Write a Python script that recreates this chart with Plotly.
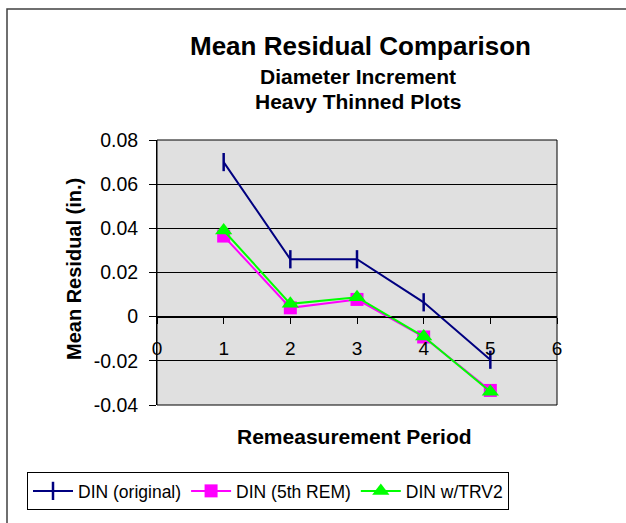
import plotly.graph_objects as go

periods = [1, 2, 3, 4, 5]
din_original = [0.070, 0.026, 0.026, 0.0065, -0.0195]
din_5th_rem = [0.0365, 0.0040, 0.0078, -0.0092, -0.0334]
din_trv2 = [0.0390, 0.0058, 0.0088, -0.0090, -0.0340]

x_ticks = [0, 1, 2, 3, 4, 5, 6]
y_ticks = [-0.04, -0.02, 0, 0.02, 0.04, 0.06, 0.08]
y_tick_labels = ["-0.04", "-0.02", "0", "0.02", "0.04", "0.06", "0.08"]
y_range = [-0.04, 0.08]

W, H = 626, 523
L, R, T, B = 157, 69, 140, 118
plot_w = W - L - R
plot_h = H - T - B

font_family = "Liberation Sans, Arial, sans-serif"


def px_x(p):
    return (p - L) / plot_w


def px_y(p):
    return (H - B - p) / plot_h


fig = go.Figure()
fig.add_trace(go.Scatter(
    x=periods, y=din_original, mode="lines+markers", name="DIN (original)",
    line=dict(color="#000080", width=2),
    marker=dict(symbol="line-ns", size=13, line=dict(color="#000080", width=2.5)),
))
fig.add_trace(go.Scatter(
    x=periods, y=din_5th_rem, mode="lines+markers", name="DIN (5th REM)",
    line=dict(color="#FF00FF", width=2),
    marker=dict(symbol="square", size=13, color="#FF00FF"),
))
fig.add_trace(go.Scatter(
    x=periods, y=din_trv2, mode="lines+markers", name="DIN w/TRV2",
    line=dict(color="#00FF00", width=2),
    marker=dict(symbol="triangle-up", size=15, color="#00FF00"),
))

zero_pos = (0 - y_range[0]) / (y_range[1] - y_range[0])

fig.update_layout(
    width=W, height=H,
    margin=dict(l=L, r=R, t=T, b=B, autoexpand=False),
    paper_bgcolor="white",
    plot_bgcolor="#E0E0E0",
    font=dict(family=font_family, color="black", size=18),
    xaxis=dict(
        range=[0, 6], tickvals=x_ticks, showgrid=False, zeroline=False,
        anchor="free", position=zero_pos,
        showline=True, linecolor="black", linewidth=1,
        ticks="outside", ticklen=6, tickcolor="black",
        tickfont=dict(size=19), ticklabelstandoff=9,
    ),
    yaxis=dict(
        range=y_range, tickvals=y_ticks, ticktext=y_tick_labels,
        showgrid=True, gridcolor="black", gridwidth=1,
        zeroline=False, showline=True, linecolor="black", linewidth=1,
        ticks="outside", ticklen=7, tickcolor="black",
        tickfont=dict(size=19.5), ticklabelstandoff=7,
    ),
    legend=dict(
        orientation="h", x=px_x(27), xanchor="left",
        y=px_y(472), yanchor="top",
        bgcolor="white", bordercolor="black", borderwidth=1,
        font=dict(size=17.5), itemwidth=40, tracegroupgap=0,
    ),
    showlegend=True,
)

# titles
fig.add_annotation(text="<b>Mean Residual Comparison</b>", xref="paper", yref="paper",
                   x=px_x(360), y=px_y(46), xanchor="center", yanchor="middle",
                   showarrow=False, font=dict(size=26))
fig.add_annotation(text="<b>Diameter Increment</b>", xref="paper", yref="paper",
                   x=px_x(358), y=px_y(76), xanchor="center", yanchor="middle",
                   showarrow=False, font=dict(size=21))
fig.add_annotation(text="<b>Heavy Thinned Plots</b>", xref="paper", yref="paper",
                   x=px_x(358), y=px_y(101), xanchor="center", yanchor="middle",
                   showarrow=False, font=dict(size=21))

# axis titles
fig.add_annotation(text="<b>Remeasurement Period</b>", xref="paper", yref="paper",
                   x=px_x(354), y=px_y(436), xanchor="center", yanchor="middle",
                   showarrow=False, font=dict(size=21))
fig.add_annotation(text="<b>Mean Residual (in.)</b>", xref="paper", yref="paper",
                   x=px_x(74), y=px_y(269), xanchor="center", yanchor="middle",
                   textangle=-90, showarrow=False, font=dict(size=20))

# plot area border
fig.add_shape(type="rect", xref="paper", yref="paper", x0=0, x1=1, y0=0, y1=1,
              line=dict(color="black", width=1), layer="above")

# outer chart frame
fig.add_shape(type="rect", xref="paper", yref="paper",
              x0=px_x(7), x1=2.0, y0=-2.0, y1=px_y(9),
              line=dict(color="#404040", width=1.5))

fig.write_html("out.html")
